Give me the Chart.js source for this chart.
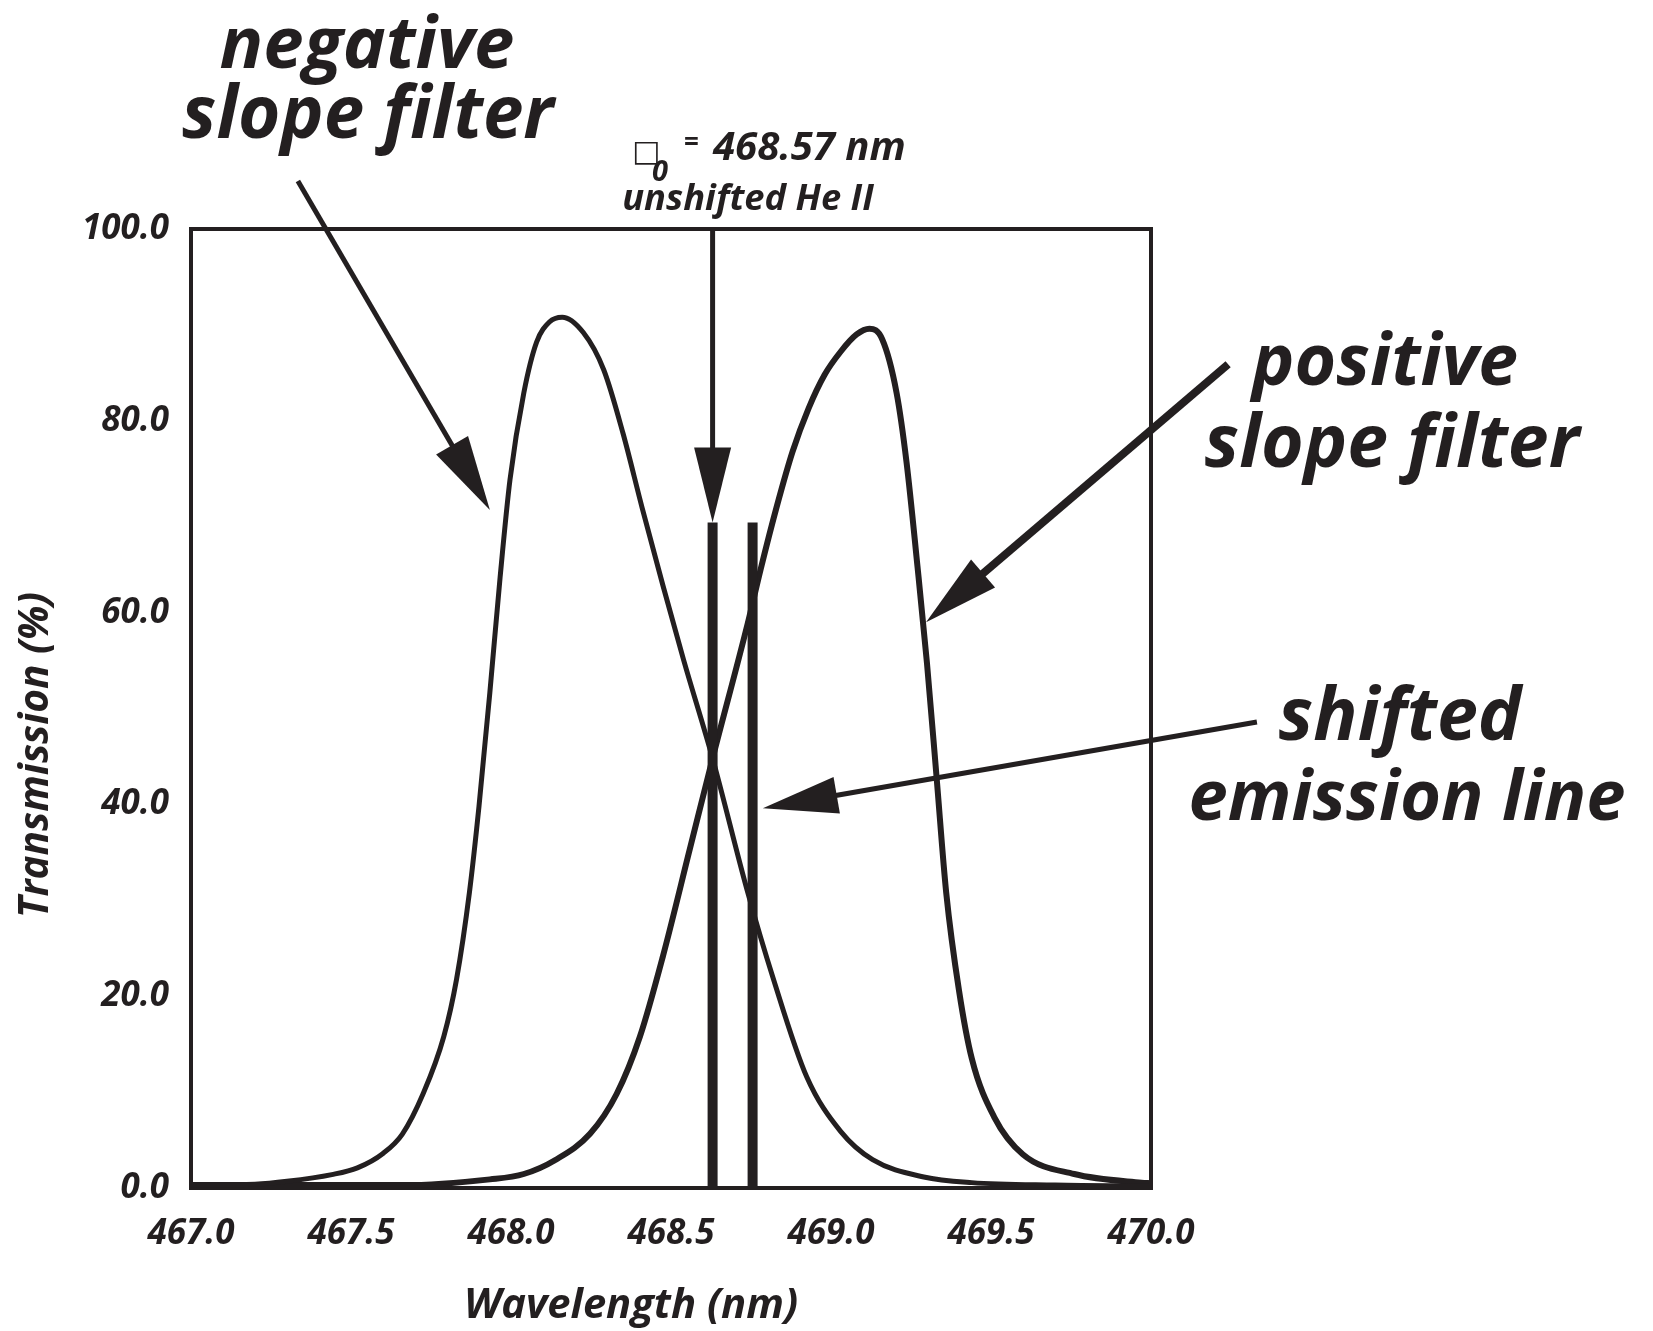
<!DOCTYPE html>
<html>
<head>
<meta charset="utf-8">
<script src="https://cdn.jsdelivr.net/npm/chart.js@4.4.1/dist/chart.umd.min.js"></script>
<style>
  html, body { margin: 0; padding: 0; background: #fff; }
  #wrap { width: 1653px; height: 1331px; }
</style>
</head>
<body>
<div id="wrap"><canvas id="chart" width="1653" height="1331"></canvas></div>
<script>
const INK = "#231f20";
const FONT = "'Open Sans', 'Noto Sans', sans-serif";

// negative slope filter (left peak)
const negWl = [467.0, 467.2, 467.3, 467.44, 467.52, 467.6, 467.66, 467.725, 467.79, 467.83,
  467.87, 467.9, 467.934, 467.966, 467.997, 468.04, 468.08, 468.12, 468.16, 468.226,
  468.29, 468.35, 468.41, 468.475, 468.54, 468.63, 468.74, 468.82, 468.924, 469.03,
  469.13, 469.29, 469.44, 469.7, 470.0];
const negT = [0.3, 0.4, 0.7, 1.4, 2.1, 3.6, 5.6, 9.8, 15.8, 21.8,
  30.8, 39.8, 51.7, 63.7, 73.9, 82.9, 88.2, 90.3, 90.8, 89.2,
  85.3, 78.7, 70.9, 62.8, 55.0, 44.8, 30.8, 21.8, 11.6, 5.9,
  2.95, 1.15, 0.56, 0.3, 0.2];

// positive slope filter (right peak)
const posWl = [467.0, 467.66, 467.934, 468.04, 468.14, 468.247, 468.33, 468.403, 468.475, 468.56,
  468.63, 468.74, 468.78, 468.83, 468.88, 468.93, 468.98, 469.03, 469.08, 469.12,
  469.16, 469.205, 469.236, 469.27, 469.3, 469.33, 469.36, 469.4, 469.44, 469.51,
  469.6, 469.76, 469.97, 470.0];
const posT = [0.3, 0.3, 0.9, 1.46, 2.95, 5.65, 9.8, 15.8, 24.2, 35.5,
  44.8, 58.9, 64.5, 71.0, 76.8, 81.3, 84.8, 87.2, 89.0, 89.6,
  88.5, 82.9, 75.7, 64.9, 54.7, 42.8, 30.8, 20.6, 13.5, 7.4,
  3.5, 1.46, 0.56, 0.5];

// emission lines: unshifted He II and the shifted one
const lineWl = [468.63, 468.755];
const lineTop = 69.4;

const xTicks = [467.0, 467.5, 468.0, 468.5, 469.0, 469.5, 470.0];
const yTicks = [0, 20, 40, 60, 80, 100];

// arrows, in data units (wavelength, transmission)
const arrows = [
  { from: [467.334, 105.0], to: [467.934, 70.7], lw: 5 },
  { from: [468.63, 100.0], to: [468.63, 69.4], lw: 5 },
  { from: [470.241, 85.9], to: [469.297, 59.0], lw: 8 },
  { from: [470.331, 48.6], to: [468.787, 39.6], lw: 5 },
];

// free text, canvas pixels: centre x, baseline y, width to fit
const notes = [
  { text: "negative", x: 367, y: 68, w: 295 },
  { text: "slope filter", x: 368, y: 138, w: 372 },
  { text: "positive", x: 1385, y: 385, w: 266 },
  { text: "slope filter", x: 1392, y: 467, w: 375 },
  { text: "shifted", x: 1400, y: 740, w: 243 },
  { text: "emission line", x: 1407, y: 820, w: 437 },
  { text: "unshifted He II", x: 748, y: 210, w: 252 },
  { text: "Wavelength (nm)", x: 631, y: 1318, w: 334 },
];

function fitFont(ctx, text, width) {
  ctx.font = `italic bold 100px ${FONT}`;
  const size = 100 * width / ctx.measureText(text).width;
  return `italic bold ${size.toFixed(1)}px ${FONT}`;
}

function curve(xs, ys) {
  return xs.map((x, i) => ({ x, y: ys[i] }));
}

const overlay = {
  id: "overlay",
  afterDraw(chart) {
    const { ctx, chartArea: a, scales: { x, y } } = chart;
    ctx.save();
    ctx.strokeStyle = INK;
    ctx.fillStyle = INK;

    // top and right sides of the frame
    ctx.lineWidth = 4;
    ctx.beginPath();
    ctx.moveTo(a.left - 2, a.top);
    ctx.lineTo(a.right, a.top);
    ctx.lineTo(a.right, a.bottom + 2);
    ctx.stroke();

    arrows.forEach((ar) => {
      const x0 = x.getPixelForValue(ar.from[0]), y0 = y.getPixelForValue(ar.from[1]);
      const x1 = x.getPixelForValue(ar.to[0]), y1 = y.getPixelForValue(ar.to[1]);
      const len = Math.hypot(x1 - x0, y1 - y0);
      const ux = (x1 - x0) / len, uy = (y1 - y0) / len;
      const head = 75, half = 18.5;
      const bx = x1 - ux * head, by = y1 - uy * head;
      ctx.lineWidth = ar.lw;
      ctx.lineCap = "butt";
      ctx.beginPath();
      ctx.moveTo(x0, y0);
      ctx.lineTo(bx + ux * 4, by + uy * 4);
      ctx.stroke();
      ctx.beginPath();
      ctx.moveTo(x1, y1);
      ctx.lineTo(bx - uy * half, by + ux * half);
      ctx.lineTo(bx + uy * half, by - ux * half);
      ctx.closePath();
      ctx.fill();
    });

    ctx.textAlign = "center";
    ctx.textBaseline = "alphabetic";
    notes.forEach((n) => {
      ctx.font = fitFont(ctx, n.text, n.w);
      ctx.fillText(n.text, n.x, n.y);
    });

    // lambda_0 = 468.57 nm (the lambda shows as a missing-glyph box)
    ctx.textAlign = "left";
    ctx.font = `30px 'DejaVu Sans', sans-serif`;
    ctx.fillText("\u25A1", 632, 161);
    ctx.font = `italic bold 29px ${FONT}`;
    ctx.fillText("0", 652, 181);
    ctx.font = `bold 26px ${FONT}`;
    ctx.fillText("=", 684, 151);
    ctx.font = fitFont(ctx, "468.57 nm", 193);
    ctx.fillText("468.57 nm", 713, 160);

    // y axis title
    ctx.translate(36, 755);
    ctx.rotate(-Math.PI / 2);
    ctx.textAlign = "center";
    ctx.textBaseline = "middle";
    ctx.font = fitFont(ctx, "Transmission (%)", 326);
    ctx.fillText("Transmission (%)", 0, 0);
    ctx.restore();
  },
};

const tickFont = { family: FONT, size: 35, weight: "bold", style: "italic" };

new Chart(document.getElementById("chart"), {
  type: "line",
  data: {
    datasets: [
      {
        label: "negative slope filter",
        data: curve(negWl, negT),
        borderColor: INK,
        borderWidth: 5,
        cubicInterpolationMode: "monotone",
        pointRadius: 0,
        order: 1,
      },
      {
        label: "positive slope filter",
        data: curve(posWl, posT),
        borderColor: INK,
        borderWidth: 6,
        cubicInterpolationMode: "monotone",
        pointRadius: 0,
        order: 1,
      },
      ...lineWl.map((wl, i) => ({
        label: i === 0 ? "unshifted He II" : "shifted emission line",
        data: [{ x: wl, y: 0 }, { x: wl, y: lineTop }],
        borderColor: INK,
        borderWidth: 10,
        borderCapStyle: "butt",
        pointRadius: 0,
        order: 0,
      })),
    ],
  },
  options: {
    responsive: false,
    animation: false,
    devicePixelRatio: 1,
    layout: { padding: { top: 229, right: 502, left: 0, bottom: 0 } },
    plugins: { legend: { display: false }, tooltip: { enabled: false } },
    scales: {
      x: {
        type: "linear",
        min: 467,
        max: 470,
        afterBuildTicks: (s) => { s.ticks = xTicks.map((v) => ({ value: v })); },
        afterFit: (s) => { s.height = 143; },
        grid: { display: false, drawTicks: false },
        border: { display: true, color: INK, width: 4 },
        ticks: { color: INK, font: tickFont, padding: 25, maxRotation: 0, callback: (v) => Number(v).toFixed(1) },
      },
      y: {
        min: 0,
        max: 100,
        afterBuildTicks: (s) => { s.ticks = yTicks.map((v) => ({ value: v })); },
        afterFit: (s) => { s.width = 191; },
        grid: { display: false, drawTicks: false },
        border: { display: true, color: INK, width: 4 },
        ticks: { color: INK, font: tickFont, padding: 22, callback: (v) => Number(v).toFixed(1) },
      },
    },
  },
  plugins: [overlay],
});
</script>
</body>
</html>
